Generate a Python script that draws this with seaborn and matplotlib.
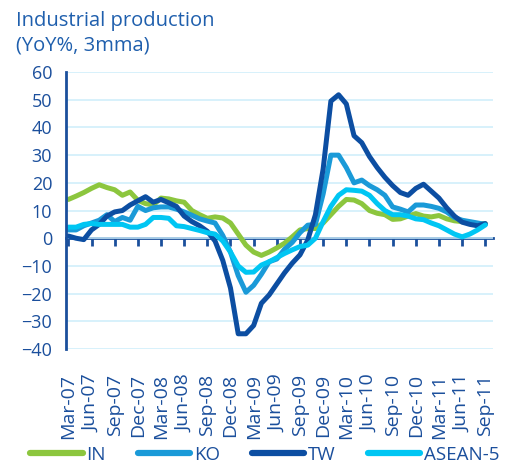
import matplotlib
matplotlib.use("Agg")
import matplotlib.pyplot as plt
import pandas as pd
import numpy as np
import seaborn as sns

# Monthly industrial production, YoY %, 3mma (Mar-07 .. Sep-11)
months = pd.date_range("2007-03-01", periods=55, freq="MS")

IN = [14, 15.2, 16.5, 18, 19.3, 18.3, 17.5, 15.5, 16.7, 13.7,
      12.5, 12, 14.5, 14.2, 13.5, 13, 10, 8.5, 7.2, 7.7,
      7.3, 5.5, 1.5, -2.5, -5, -6.2, -5, -3.5, -1.8, 0.5,
      3, 3.5, 3.5, 5.5, 8.5, 11.5, 14, 13.8, 12.5, 10,
      9, 8.5, 6.8, 7, 8, 8.9, 8, 7.7, 8.2, 7,
      6.3, 6, 5.5, 5.2, 5.2]
KO = [3, 3, 4.5, 5.5, 6.5, 8.5, 6, 7.5, 6.5, 11.5,
      10, 11, 11.3, 11.3, 10.5, 9.5, 8.3, 7, 6.2, 5.5,
      1, -5, -13.5, -19.5, -17, -13, -8.5, -7.5, -4, -1.5,
      2, 4.7, 5, 16, 30, 30, 25.5, 20, 21, 19,
      17.5, 15.5, 11.3, 10.5, 9.5, 12, 12, 11.5, 10.8, 9.5,
      7.5, 6.5, 6, 5.5, 5]
TW = [0.8, 0, -0.5, 3, 5, 8, 9.5, 10, 12, 13.5,
      15, 13, 14, 12.8, 11.5, 8, 6, 4.5, 2.5, -1,
      -8, -18, -34.5, -34.5, -31.5, -23.5, -20.5, -16.5, -12.5, -9,
      -6, -0.7, 8.5, 25, 49.5, 51.8, 48.5, 37, 34.5, 29.5,
      25.5, 22, 19, 16.5, 15.5, 18, 19.5, 17, 14.5, 11,
      8, 5.8, 5, 4.5, 5.3]
ASEAN5 = [4, 4, 5, 5.3, 5, 5, 5, 5, 4, 4,
          5, 7.5, 7.5, 7.2, 4.5, 4.2, 3.5, 2.8, 2, 1.5,
          -1, -5, -10, -12.3, -12.2, -9.7, -8.5, -7, -5.5, -4.2,
          -3, -2.5, 0, 6, 11.5, 15.5, 17.5, 17.3, 17, 15.5,
          12.5, 10, 8.5, 8.5, 8, 7, 6.7, 5.5, 4.5, 3,
          1.5, 0.5, 1.5, 3, 4.8]

series_names = ["IN", "KO", "TW", "ASEAN-5"]
colors = ["#8cc63e", "#1a9ad8", "#0c4ea2", "#00c6f3"]
tick_labels = [m.strftime("%b-%y") for m in months[::3]]

df = pd.DataFrame({"x": np.arange(len(months)), "IN": IN, "KO": KO, "TW": TW, "ASEAN-5": ASEAN5})
long = df.melt(id_vars="x", var_name="series", value_name="value")

sns.set_style("white")
plt.rcParams["font.family"] = ["Open Sans", "DejaVu Sans"]

dark = "#1b4f9c"
grid = "#cdeefa"

fig = plt.figure(figsize=(5.17, 4.71), dpi=100)
ax = fig.add_axes([0.1277, 0.259, 0.8259, 0.588])

sns.lineplot(data=long, x="x", y="value", hue="series", hue_order=series_names,
             palette=colors, linewidth=3.6, ax=ax, legend=True)

ax.set_ylim(-40, 60)
ax.set_yticks(range(-40, 61, 10))
ax.set_xlim(-0.3, 55.0)
ax.yaxis.grid(True, color=grid, linewidth=1.1)
ax.set_axisbelow(True)
for s in ["top", "right", "bottom"]:
    ax.spines[s].set_visible(False)
ax.spines["left"].set_color(dark)
ax.spines["left"].set_linewidth(2)
ax.tick_params(axis="y", direction="out", length=6, width=2, color=dark,
               labelcolor=dark, labelsize=13, pad=4)

ax.set_xticks(range(0, 55, 3))
ax.set_xticklabels(tick_labels, rotation=90, color=dark, fontsize=14)
ax.tick_params(axis="x", length=0, pad=18)
ax.set_xlabel("")
ax.set_ylabel("")

# zero line with tick marks
sec = ax.secondary_xaxis(0.4)
sec.set_xticks(range(0, 55, 3))
sec.set_xticklabels([])
sec.spines["bottom"].set_color(dark)
sec.spines["bottom"].set_linewidth(2)
sec.tick_params(axis="x", direction="out", length=6, width=2, color=dark)

fig.text(0.03, 0.955, "Industrial production", color="#1f5fad", fontsize=14.5, va="center")
fig.text(0.03, 0.903, "(YoY%, 3mma)", color="#1f5fad", fontsize=14.5, va="center")

handles, labels = ax.get_legend_handles_labels()
ax.get_legend().remove()
leg = fig.legend(handles, labels, loc="center", bbox_to_anchor=(0.512, 0.035), ncol=4,
                 frameon=False, handlelength=2.8, handletextpad=0.2, columnspacing=1.7,
                 fontsize=13.5, borderpad=0)
for t in leg.get_texts():
    t.set_color(dark)
for l in leg.get_lines():
    l.set_linewidth(4.5)

plt.savefig("out.png", dpi=100)
